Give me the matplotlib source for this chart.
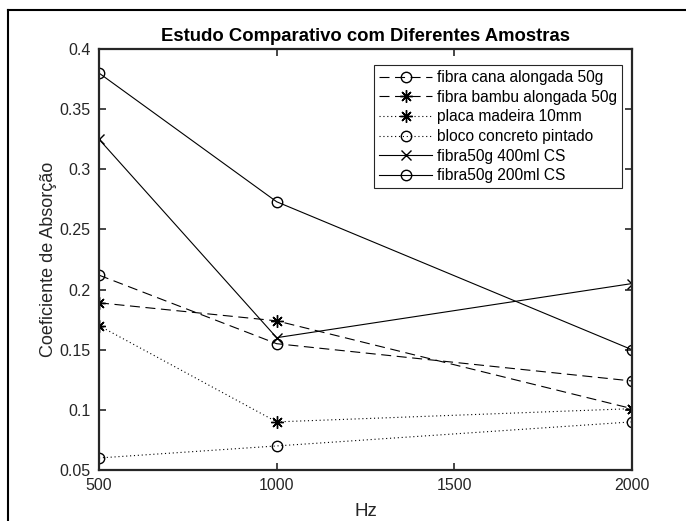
import matplotlib
matplotlib.use("Agg")
import matplotlib.pyplot as plt
from matplotlib.lines import Line2D

plt.rcParams['font.family'] = ['Liberation Sans', 'DejaVu Sans']

hz = [500, 1000, 2000]

cana = [0.212, 0.155, 0.124]
bambu = [0.189, 0.174, 0.101]
madeira = [0.170, 0.090, 0.101]
concreto = [0.060, 0.070, 0.090]
fibra400 = [0.325, 0.160, 0.205]
fibra200 = [0.380, 0.273, 0.150]

labels = ["fibra cana alongada 50g", "fibra bambu alongada 50g",
          "placa madeira 10mm", "bloco concreto pintado",
          "fibra50g 400ml CS", "fibra50g 200ml CS"]

W, H = 686, 521
fig = plt.figure(figsize=(W / 100, H / 100), dpi=100)
ax = fig.add_axes([99 / W, 1 - 470 / H, (632 - 99) / W, (470 - 49) / H])

asterisk = (8, 2, 0)
dark = (0.15, 0.15, 0.15)

ax.plot(hz, cana, color="k", lw=0.8, ls=(0, (9, 5)), marker="o", mfc="none", ms=7.5, label=labels[0])
ax.plot(hz, bambu, color="k", lw=0.8, ls=(0, (9, 5)), marker=asterisk, ms=9, label=labels[1])
ax.plot(hz, madeira, color="k", lw=0.8, ls=(0, (1, 2.5)), marker=asterisk, ms=9, label=labels[2])
ax.plot(hz, concreto, color="k", lw=0.8, ls=(0, (1, 2.5)), marker="o", mfc="none", ms=7.5, label=labels[3])
ax.plot(hz, fibra400, color="k", lw=0.8, ls="-", marker="x", ms=7.5, label=labels[4])
ax.plot(hz, fibra200, color="k", lw=0.8, ls="-", marker="o", mfc="none", ms=7.5, label=labels[5])

ax.set_xlim(500, 2000)
ax.set_ylim(0.05, 0.4)
ax.set_xticks([500, 1000, 1500, 2000])
ax.set_yticks([0.05, 0.1, 0.15, 0.2, 0.25, 0.3, 0.35, 0.4])
ax.set_yticklabels(["0.05", "0.1", "0.15", "0.2", "0.25", "0.3", "0.35", "0.4"])
ax.tick_params(direction="in", top=True, right=True, length=5, width=1.2,
               labelsize=11.5, colors=dark, labelcolor=dark, pad=6)
for s in ax.spines.values():
    s.set_linewidth(1.6)
    s.set_color(dark)

ax.set_title("Estudo Comparativo com Diferentes Amostras", fontsize=13.3,
             fontweight="bold", pad=6)
ax.set_xlabel("Hz", fontsize=13.5, color=dark, labelpad=7)
ax.set_ylabel("Coeficiente de Absorção", fontsize=13, color=dark, labelpad=2)

leg = ax.legend(loc="upper right", bbox_to_anchor=(622 / W, 1 - 65 / H),
                bbox_transform=fig.transFigure, fontsize=11.2, handlelength=3.4,
                fancybox=False, framealpha=1, edgecolor=dark, borderpad=0.32,
                labelspacing=0.3, handletextpad=0.3, borderaxespad=0)
leg.get_frame().set_linewidth(0.8)

# figure border (partly cut off at right and bottom)
fig.add_artist(Line2D([8 / W, 8 / W], [0, 1 - 10 / H], transform=fig.transFigure,
                      color="k", lw=1.5))
fig.add_artist(Line2D([8 / W, 1], [1 - 10 / H, 1 - 10 / H], transform=fig.transFigure,
                      color="k", lw=1.5))

fig.savefig("out.png", dpi=100)
